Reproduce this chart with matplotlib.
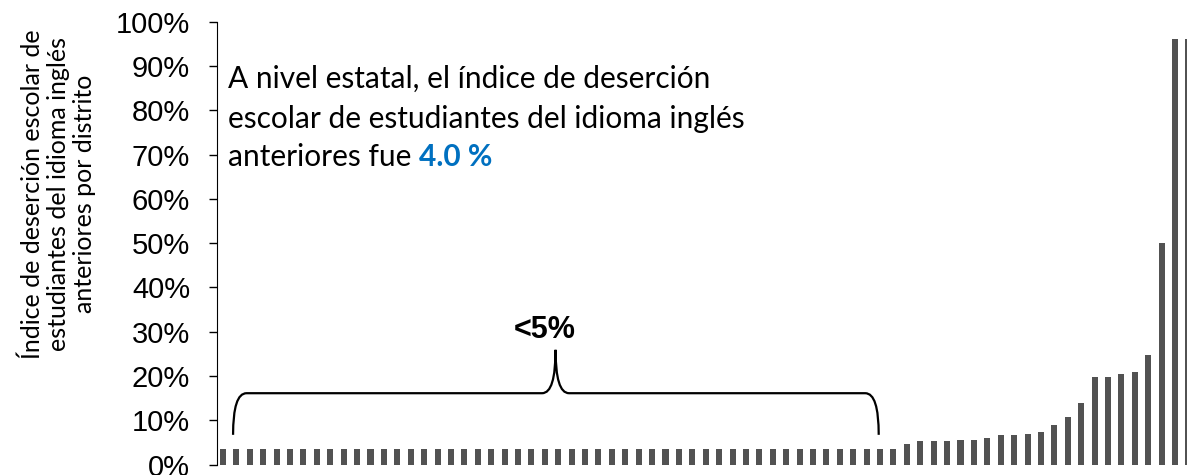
import matplotlib.pyplot as plt
from matplotlib.path import Path
from matplotlib.patches import PathPatch
from matplotlib.ticker import PercentFormatter

# tasas de deserción por distrito (%), ordenadas de menor a mayor
n_bajo = 51
tasas = [3.6] * n_bajo + [4.6, 5.2, 5.2, 5.2, 5.5, 5.5, 6.0, 6.6, 6.6, 6.8, 7.3,
                          9.0, 10.7, 14.0, 19.7, 19.7, 20.5, 21.0, 24.7, 50.0, 96.0, 96.0]
distritos = list(range(len(tasas)))
y_ticks = list(range(0, 101, 10))

texto_ylabel = "Índice de deserción escolar de\nestudiantes del idioma inglés\nanteriores por distrito"
lineas_nota = ["A nivel estatal, el índice de deserción",
               "escolar de estudiantes del idioma inglés",
               "anteriores fue "]
valor_estatal = "4.0 %"

W, H = 1187, 475
fig = plt.figure(figsize=(W / 100, H / 100), dpi=100)
ax = fig.add_axes([216.5 / W, (H - 464.5) / H, 1 - 216.5 / W, (464.5 - 21.7) / H])

ax.bar(distritos, tasas, width=0.45, color='#525252')
ax.set_xlim(-0.485, 71.89)
ax.set_ylim(0, 100)
ax.set_yticks(y_ticks)
ax.yaxis.set_major_formatter(PercentFormatter(decimals=0))
ax.tick_params(axis='y', length=6, width=1, pad=13, labelsize=21)
ax.tick_params(axis='x', bottom=False, labelbottom=False)
for lab in ax.get_yticklabels():
    lab.set_family('Liberation Sans')
for s in ['top', 'right', 'bottom']:
    ax.spines[s].set_visible(False)

# llave sobre los distritos con menos de 5 %
x0, x1, xt = 0.75, 48.9, 24.8
yb, ym, yt = 6.7, 16.1, 25.9
dx = 1.0
verts = [(x0, yb), (x0, ym), (x0 + dx, ym),
         (xt - dx, ym), (xt, ym), (xt, yt),
         (xt, ym), (xt + dx, ym),
         (x1 - dx, ym), (x1, ym), (x1, yb)]
codes = [Path.MOVETO, Path.CURVE3, Path.CURVE3,
         Path.LINETO, Path.CURVE3, Path.CURVE3,
         Path.CURVE3, Path.CURVE3,
         Path.LINETO, Path.CURVE3, Path.CURVE3]
ax.add_patch(PathPatch(Path(verts, codes), fill=False, lw=1.6, color='black'))
ax.text(24.0, 30.4, "<5%", ha='center', va='center', fontsize=22,
        fontweight='bold', family='Liberation Sans')

# nota
fig.text(58 / W, 1 - 194 / H, texto_ylabel, rotation=90, ha='center', va='center',
         fontsize=18, family='Lato', linespacing=1.15, multialignment='center')
bases = [88, 128, 166]
t = None
for linea, b in zip(lineas_nota, bases):
    t = fig.text(228 / W, 1 - b / H, linea, ha='left', va='baseline',
                 fontsize=21.5, family='Lato')
fig.canvas.draw()
bb = t.get_window_extent()
fig.text(bb.x1 / W, 1 - bases[-1] / H, valor_estatal, ha='left', va='baseline',
         fontsize=21.5, family='Lato', fontweight='bold', color='#0070C0')

fig.savefig('out.png', dpi=100)
